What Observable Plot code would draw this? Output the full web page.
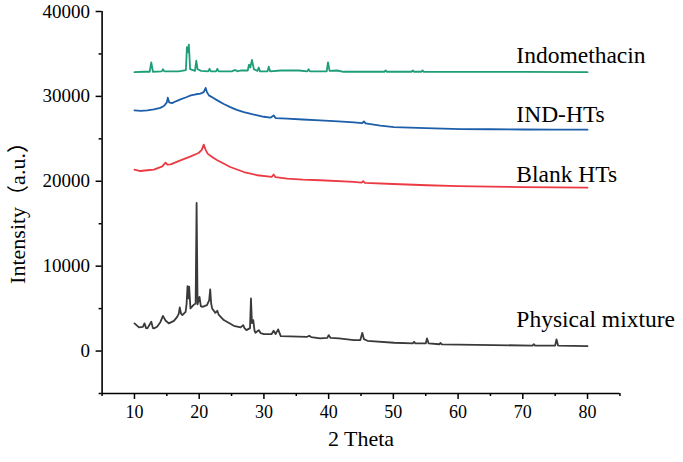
<!DOCTYPE html>
<html>
<head>
<meta charset="utf-8">
<script src="https://cdn.jsdelivr.net/npm/d3@7"></script>
<script src="https://cdn.jsdelivr.net/npm/@observablehq/plot@0.6"></script>
<style>
  html, body { margin: 0; padding: 0; background: #fff; }
  #chart { width: 683px; height: 462px; }
  #chart svg, #chart svg text { font-family: "Liberation Serif", "Noto Sans CJK SC", serif !important; }
</style>
</head>
<body>
<div id="chart"></div>
<script>
// ---- data (2θ, intensity) ----
const indomethacin = [
  [10, 32850], [11.5, 32900], [12.35, 32900], [12.6, 34000], [12.85, 32900],
  [14.2, 32950], [14.4, 33200], [14.6, 32950], [16.8, 32950], [17.3, 33000],
  [17.95, 33100], [18.1, 35800], [18.25, 35200], [18.4, 36100], [18.6, 33200],
  [19.35, 33000], [19.55, 34200], [19.75, 33200], [20.3, 33000], [21.4, 32950],
  [21.6, 33250], [21.8, 32950], [22.6, 32950], [22.8, 33250], [23.0, 32950],
  [25.1, 32950], [25.3, 33050], [25.6, 33100], [25.9, 32950], [26.4, 33050],
  [27.5, 33050], [27.7, 33750], [27.9, 33400], [28.15, 34300], [28.45, 33200],
  [29.0, 33000], [29.2, 33400], [29.4, 32950], [30.55, 32950], [30.75, 33500],
  [30.95, 32950], [32.6, 33050], [33.8, 33050], [35.4, 33050], [36.7, 32950],
  [36.9, 33200], [37.1, 32950], [39.7, 32950], [39.9, 34000], [40.15, 33000],
  [41.3, 33050], [42.3, 32900], [48.6, 32900], [48.8, 33050], [49.0, 32900],
  [52.8, 32900], [53.0, 33050], [53.2, 32900], [54.3, 32900], [54.5, 33050],
  [54.7, 32900], [60, 32890], [70, 32880], [80, 32850]
];
const indHTs = [
  [10, 28350], [11, 28300], [12, 28350], [13, 28470], [14, 28650], [14.6, 28900],
  [15.0, 29300], [15.15, 29850], [15.35, 29300], [15.8, 29200], [16.5, 29450],
  [17.1, 29650], [18.0, 29900], [18.7, 30120], [19.5, 30250], [20.2, 30320],
  [20.7, 30500], [21.0, 31000], [21.2, 30500], [21.5, 30120], [22.2, 29800],
  [22.8, 29530], [23.8, 29100], [24.8, 28740], [25.8, 28420], [26.9, 28150],
  [28.0, 27930], [29.0, 27760], [30.0, 27600], [31.0, 27490], [31.5, 27760],
  [31.8, 27450], [33.6, 27380], [36, 27280], [38.7, 27180], [41.5, 27050],
  [43.9, 26940], [45.2, 26850], [45.45, 27050], [45.7, 26820], [48, 26550],
  [50.1, 26390], [55, 26250], [60.4, 26150], [65, 26130], [70, 26100],
  [75, 26090], [80, 26080]
];
const blankHTs = [
  [10, 21380], [10.9, 21210], [12, 21300], [13, 21380], [14.3, 21760],
  [14.8, 22200], [15.1, 21950], [15.6, 22000], [17.1, 22470], [18.7, 22940],
  [19.9, 23330], [20.4, 23700], [20.7, 24320], [21.0, 23700], [21.3, 23260],
  [22.0, 22850], [22.8, 22470], [24.8, 21680], [26.9, 21090], [29.0, 20710],
  [31.2, 20510], [31.5, 20790], [31.8, 20480], [33.6, 20320], [36, 20200],
  [38.7, 20120], [43.9, 19920], [45.1, 19850], [45.35, 20000], [45.6, 19820],
  [50, 19680], [55.2, 19530], [60, 19440], [65, 19370], [70, 19320],
  [75, 19290], [80, 19260]
];
const physicalMixture = [
  [10, 3260], [10.7, 2790], [11.3, 2850], [11.55, 3260], [11.8, 2700], [12.0, 2670],
  [12.6, 3450], [12.85, 2700], [13.0, 2670], [13.5, 2860], [14.0, 3400], [14.4, 4150],
  [14.8, 3600], [15.3, 3260], [16.1, 3560], [16.6, 4030], [16.85, 4400], [17.0, 5140],
  [17.2, 4400], [17.4, 4240], [17.9, 4620], [18.05, 5500], [18.2, 7650], [18.35, 6200],
  [18.45, 7600], [18.65, 5020], [19.1, 5410], [19.45, 5600], [19.6, 17450], [19.75, 5500],
  [20.05, 6390], [20.25, 5300], [20.5, 5210], [21.2, 5410], [21.55, 6000], [21.7, 7260],
  [21.85, 5600], [22.0, 5020], [22.5, 4500], [22.8, 4750], [23.0, 4300], [23.8, 3650],
  [25.35, 2980], [26.4, 2790], [26.8, 3060], [27.0, 2700], [27.3, 2470], [27.85, 2700],
  [28.0, 6200], [28.15, 3300], [28.35, 3650], [28.55, 2400], [28.7, 2150], [29.2, 2470],
  [29.5, 2100], [30.0, 2000], [31.2, 2000], [31.5, 2390], [31.8, 2000], [32.2, 2550],
  [32.6, 1760], [36.7, 1680], [37.0, 1800], [37.3, 1650], [38.7, 1490], [39.8, 1550],
  [40.0, 1880], [40.3, 1550], [41.6, 1490], [43.9, 1290], [44.9, 1300], [45.2, 2150],
  [45.45, 1400], [46.0, 1210], [50.1, 980], [53.0, 900], [53.2, 1100], [53.4, 900],
  [55.0, 900], [55.2, 1490], [55.45, 900], [57.1, 800], [57.3, 950], [57.5, 780],
  [60, 750], [65.5, 700], [71.5, 650], [71.7, 800], [71.9, 650], [75.0, 650],
  [75.2, 1380], [75.45, 650], [80, 590]
];

const seriesNames = ["Indomethacin", "IND-HTs", "Blank HTs", "Physical mixture"];
const labelTheta = [69, 69, 69, 69];
const labelIntensity = [34820, 27860, 20800, 3680];

const xMajorTicks = [10, 20, 30, 40, 50, 60, 70, 80];
const xMinorTicks = [5, 15, 25, 35, 45, 55, 65, 75, 85];
const yMajorTicks = [0, 10000, 20000, 30000, 40000];
const yMinorTicks = [-5000, 5000, 15000, 25000, 35000];

const xTitle = "2 Theta";
const yTitle = "Intensity（a.u.）";

// ---- chart ----
const colors = ["#1e9e78", "#1c5ea9", "#ec3a44", "#3a3a3a"];
const seriesData = [indomethacin, indHTs, blankHTs, physicalMixture];
const labels = seriesNames.map((name, i) => ({name, x: labelTheta[i], y: labelIntensity[i]}));

const serif = "Liberation Serif, Noto Sans CJK SC, serif";

const chart = Plot.plot({
  width: 683,
  height: 462,
  marginTop: 11,
  marginBottom: 69,
  marginLeft: 101.6,
  marginRight: 63.6,
  x: {domain: [5, 85]},
  y: {domain: [-5000, 40000]},
  style: {fontFamily: serif, color: "black", background: "white", overflow: "visible"},
  marks: [
    Plot.ruleX([5], {stroke: "black", strokeWidth: 1.6}),
    Plot.ruleY([-5000], {stroke: "black", strokeWidth: 1.6}),
    Plot.axisX(xMajorTicks, {tickSize: 6, tickPadding: 6, fontSize: 18, fontFamily: serif, label: null, strokeWidth: 1.5, tickFormat: d3.format("d")}),
    Plot.axisX(xMinorTicks, {tickSize: 3, label: null, strokeWidth: 1.5, tickFormat: () => ""}),
    Plot.axisY(yMajorTicks, {tickSize: 6, tickPadding: 6, fontSize: 19, fontFamily: serif, label: null, strokeWidth: 1.5, tickFormat: d3.format("d")}),
    Plot.axisY(yMinorTicks, {tickSize: 3, label: null, strokeWidth: 1.5, tickFormat: () => ""}),
    ...seriesData.map((d, i) => Plot.line(d, {stroke: colors[i], strokeWidth: 1.8})),
    Plot.text(labels, {x: "x", y: "y", text: "name", textAnchor: "start", lineAnchor: "middle", fontSize: 23.5, fontFamily: serif, fill: "black"}),
    Plot.text([xTitle], {frameAnchor: "bottom", textAnchor: "middle", dy: 52, fontSize: 22, fontFamily: serif, fill: "black"}),
    Plot.text([yTitle], {frameAnchor: "left", textAnchor: "middle", lineAnchor: "middle", rotate: -90, dx: -84, dy: 5, fontSize: 22, fontFamily: serif, fill: "black"})
  ]
});
document.getElementById("chart").append(chart);
</script>
</body>
</html>
